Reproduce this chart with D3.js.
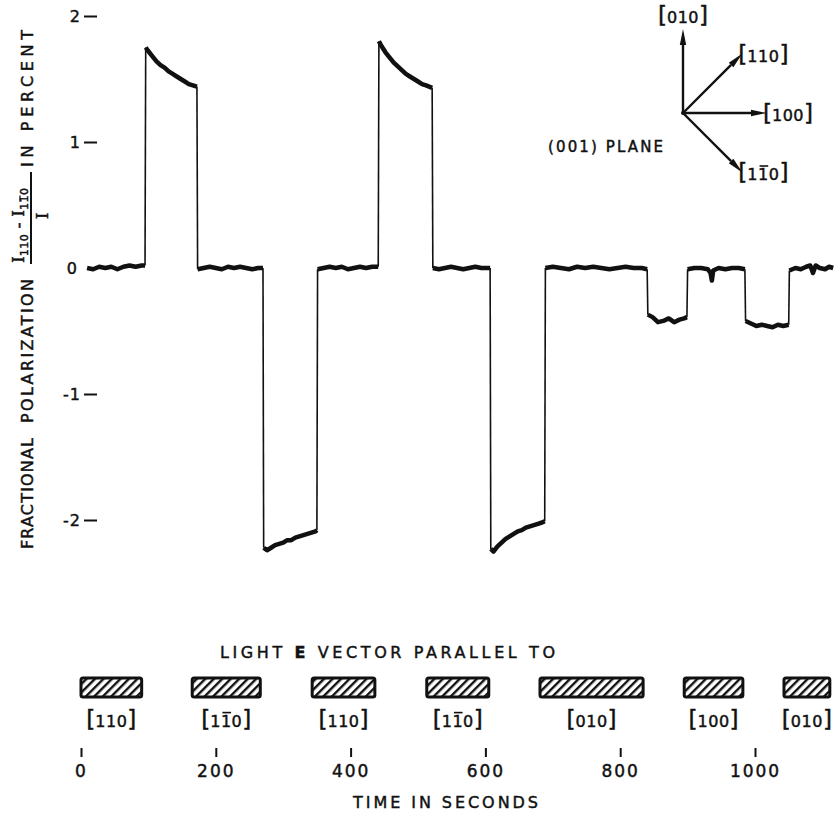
<!DOCTYPE html>
<html>
<head>
<meta charset="utf-8">
<script src="https://cdn.jsdelivr.net/npm/d3@7"></script>
<style>
  body { margin: 0; background: #fff; }
  svg { display: block; font-family: "DejaVu Sans", sans-serif; }
  svg text { fill: #111; stroke: #111; stroke-width: 0.45px; }
</style>
</head>
<body>
<svg id="chart" width="834" height="817"></svg>
<script>
// ---------- data ----------
const yTicks = [-2, -1, 0, 1, 2];
const xTicks = [0, 200, 400, 600, 800, 1000];

// recorded trace: one array per plateau (time in s, polarization in %)
const plateauTimes = [
  [9, 18, 27, 36, 45, 54, 63, 72, 81, 90, 95],
  [96, 100, 106, 112, 118, 124, 130, 136, 142, 148, 154, 160, 166, 172],
  [173, 182, 191, 200, 209, 218, 227, 236, 245, 254, 263, 270],
  [271, 276, 282, 288, 294, 300, 306, 312, 318, 324, 330, 336, 342, 348, 350],
  [351, 360, 369, 378, 387, 396, 405, 414, 423, 432, 441],
  [442, 446, 452, 458, 464, 470, 476, 482, 488, 494, 500, 506, 512, 521],
  [522, 531, 540, 549, 558, 567, 576, 585, 594, 603, 607],
  [608, 612, 618, 624, 630, 636, 642, 648, 654, 660, 666, 672, 678, 684, 688],
  [689, 700, 712, 724, 736, 748, 760, 772, 784, 796, 808, 820, 832, 840],
  [841, 848, 856, 864, 872, 880, 888, 895, 899],
  [900, 910, 920, 930, 934, 936, 938, 946, 956, 966, 976, 985],
  [986, 994, 1002, 1010, 1018, 1026, 1034, 1042, 1050],
  [1051, 1060, 1068, 1076, 1082, 1086, 1090, 1096, 1104, 1110, 1116]
];
const plateauValues = [
  [0.00, -0.01, 0.01, 0.00, 0.01, -0.01, 0.01, 0.02, 0.01, 0.02, 0.02],
  [1.75, 1.72, 1.68, 1.64, 1.61, 1.59, 1.56, 1.54, 1.52, 1.50, 1.48, 1.46, 1.45, 1.44],
  [-0.01, 0.00, 0.01, 0.00, -0.01, 0.01, 0.00, 0.01, 0.00, -0.01, 0.00, 0.00],
  [-2.22, -2.24, -2.22, -2.20, -2.19, -2.18, -2.16, -2.16, -2.14, -2.13, -2.12, -2.11, -2.10, -2.09, -2.08],
  [-0.01, 0.00, 0.01, 0.00, 0.01, -0.01, 0.00, 0.01, 0.00, 0.01, 0.01],
  [1.80, 1.76, 1.71, 1.67, 1.63, 1.60, 1.57, 1.54, 1.52, 1.50, 1.48, 1.46, 1.45, 1.43],
  [0.00, -0.01, 0.00, 0.01, 0.00, -0.01, 0.00, 0.01, 0.00, 0.00, 0.00],
  [-2.23, -2.25, -2.21, -2.18, -2.15, -2.13, -2.11, -2.09, -2.08, -2.06, -2.05, -2.04, -2.03, -2.02, -2.01],
  [0.00, 0.01, 0.00, -0.01, 0.01, 0.00, 0.01, 0.00, -0.01, 0.00, 0.01, 0.00, 0.00, -0.01],
  [-0.37, -0.39, -0.43, -0.42, -0.40, -0.43, -0.41, -0.40, -0.39],
  [-0.01, 0.00, 0.00, -0.01, -0.04, -0.10, -0.02, 0.00, -0.01, 0.00, 0.00, -0.01],
  [-0.42, -0.44, -0.46, -0.45, -0.46, -0.47, -0.45, -0.46, -0.45],
  [-0.02, 0.00, -0.01, 0.01, 0.02, -0.04, 0.02, 0.00, -0.01, 0.01, 0.00]
];

// illumination periods and the direction of the light E vector
// (barDigit: index of the digit carrying an overbar, -1 for none)
const lightStart = [0, 165, 343, 513, 681, 895, 1043];
const lightEnd = [90, 266, 436, 605, 834, 982, 1111];
const lightLabels = ["110", "110", "110", "110", "010", "100", "010"];
const lightBarDigit = [-1, 1, -1, 1, -1, -1, -1];

// crystal directions in the (001) plane (angle in degrees from [100])
const dirLabels = ["010", "110", "100", "110"];
const dirBarDigit = [-1, -1, -1, 1];
const dirAngles = [90, 45, 0, -45];

// ---------- layout ----------
const svg = d3.select("#chart");
const x = d3.scaleLinear().domain([0, 1000]).range([81, 755]);
const y = d3.scaleLinear().domain([-2, 2]).range([520, 16]);

const defs = svg.append("defs");
defs.append("pattern")
  .attr("id", "hatch")
  .attr("patternUnits", "userSpaceOnUse")
  .attr("width", 6).attr("height", 6)
  .attr("patternTransform", "rotate(45)")
  .append("rect")
  .attr("x", 0).attr("y", 0).attr("width", 2.4).attr("height", 6)
  .attr("fill", "#111");

// overbar above one character of a text element
function overbar(sel, textSel, charIndex, lift) {
  const ext = textSel.node().getExtentOfChar(charIndex);
  const base = +textSel.attr("y");
  sel.append("line")
    .attr("x1", ext.x + 1.5).attr("x2", ext.x + ext.width - 0.5)
    .attr("y1", base - lift).attr("y2", base - lift)
    .attr("stroke", "#111").attr("stroke-width", 1.6);
}

// bracketed Miller index label with tall brackets
function bracketLabel(sel, cx, baseY, inner, barDigit, size) {
  const t = sel.append("text")
    .attr("x", cx).attr("y", baseY)
    .attr("text-anchor", "middle");
  t.append("tspan").attr("font-size", size * 1.45).text("[");
  t.append("tspan").attr("font-size", size).attr("letter-spacing", 0.5).text(inner);
  t.append("tspan").attr("font-size", size * 1.45).text("]");
  if (barDigit >= 0) overbar(sel, t, 1 + barDigit, size * 0.9);
  return t;
}

// ---------- y axis ----------
const yAxis = d3.axisLeft(y).tickValues(yTicks).tickSize(13).tickPadding(3)
  .tickFormat(d => d < 0 ? "-" + Math.abs(d) : String(d));
const gy = svg.append("g").attr("transform", "translate(97,0)").call(yAxis);
gy.select(".domain").remove();
gy.selectAll(".tick line").attr("stroke", "#111").attr("stroke-width", 2)
  .attr("display", d => d === 0 ? "none" : null);
gy.selectAll(".tick text")
  .attr("font-size", 16).attr("font-family", "DejaVu Sans, sans-serif")
  .attr("letter-spacing", 1);
gy.selectAll(".tick").filter(d => d === 0).select("text").attr("x", -19);

// y axis title, drawn rotated
const yt = svg.append("g").attr("transform", "rotate(-90)");
yt.append("text").attr("x", -549).attr("y", 33).attr("font-size", 16)
  .attr("textLength", 111).attr("lengthAdjust", "spacing").text("FRACTIONAL");
yt.append("text").attr("x", -423).attr("y", 33).attr("font-size", 16)
  .attr("textLength", 144).attr("lengthAdjust", "spacing").text("POLARIZATION");
yt.append("text").attr("x", -167).attr("y", 33).attr("font-size", 16)
  .attr("textLength", 137).attr("lengthAdjust", "spacing").text("IN PERCENT");
const num = yt.append("text").attr("x", -263).attr("y", 24).attr("font-size", 17);
num.append("tspan").attr("font-family", "DejaVu Serif, serif").text("I");
num.append("tspan").attr("font-size", 11).attr("dy", 4).attr("letter-spacing", 0.5).text("110");
num.append("tspan").attr("dy", -4).text(" - ");
num.append("tspan").attr("font-family", "DejaVu Serif, serif").text("I");
num.append("tspan").attr("font-size", 11).attr("dy", 4).attr("letter-spacing", 0.5).text("110");
// overbar on the second digit of the second subscript ("I" 1 1 0 " - " "I" 1 [1] 0)
{
  const ext = num.node().getExtentOfChar(9);
  yt.append("line").attr("x1", ext.x + 1).attr("x2", ext.x + ext.width - 0.5)
    .attr("y1", 20).attr("y2", 20).attr("stroke", "#111").attr("stroke-width", 1.3);
}
yt.append("line").attr("x1", -264).attr("x2", -172).attr("y1", 31).attr("y2", 31)
  .attr("stroke", "#111").attr("stroke-width", 2);
yt.append("text").attr("x", -216).attr("y", 48).attr("font-size", 17)
  .attr("text-anchor", "middle").attr("font-family", "DejaVu Serif, serif").text("I");

// ---------- trace ----------
const plateaus = plateauTimes.map((ts, i) => ts.map((t, j) => [t, plateauValues[i][j]]));
const line = d3.line().x(d => x(d[0])).y(d => y(d[1]));
const trace = svg.append("g");
// fast transitions between plateaus (thin)
plateaus.slice(1).forEach((p, i) => {
  const a = plateaus[i][plateaus[i].length - 1], b = p[0];
  trace.append("path").attr("d", line([a, b]))
    .attr("fill", "none").attr("stroke", "#111").attr("stroke-width", 1.6);
});
// plateaus (heavy, noisy recorder line)
trace.selectAll("path.plateau").data(plateaus).join("path")
  .attr("class", "plateau")
  .attr("d", line)
  .attr("fill", "none").attr("stroke", "#111")
  .attr("stroke-width", 4.5).attr("stroke-linejoin", "round").attr("stroke-linecap", "butt");

// ---------- illumination bars ----------
svg.append("text").attr("x", 220).attr("y", 658).attr("font-size", 16)
  .attr("textLength", 335).attr("lengthAdjust", "spacing")
  .call(t => {
    t.append("tspan").text("LIGHT ");
    t.append("tspan").attr("font-weight", "bold").text("E");
    t.append("tspan").text(" VECTOR PARALLEL TO");
  });

const bars = svg.append("g");
lightStart.forEach((s, i) => {
  bars.append("rect")
    .attr("x", x(s)).attr("y", 678)
    .attr("width", x(lightEnd[i]) - x(s)).attr("height", 19)
    .attr("rx", 2)
    .attr("fill", "url(#hatch)")
    .attr("stroke", "#111").attr("stroke-width", 3);
  bracketLabel(bars, (x(s) + x(lightEnd[i])) / 2, 727, lightLabels[i], lightBarDigit[i], 16);
});

// ---------- x axis ----------
const xAxis = d3.axisBottom(x).tickValues(xTicks).tickSize(9).tickPadding(8).tickFormat(d3.format("d"));
const gx = svg.append("g").attr("transform", "translate(0,748)").call(xAxis);
gx.select(".domain").remove();
gx.selectAll(".tick line").attr("stroke", "#111").attr("stroke-width", 2);
gx.selectAll(".tick text").attr("font-size", 17)
  .attr("font-family", "DejaVu Sans, sans-serif").attr("letter-spacing", 2);
svg.append("text").attr("x", 353).attr("y", 808).attr("font-size", 16)
  .attr("textLength", 185).attr("lengthAdjust", "spacing").text("TIME IN SECONDS");

// ---------- crystal direction inset ----------
const inset = svg.append("g").attr("transform", "translate(683,113)");
const arrowLen = 84;
dirAngles.forEach((a, i) => {
  const r = a * Math.PI / 180;
  const tx = arrowLen * Math.cos(r), ty = -arrowLen * Math.sin(r);
  const ux = Math.cos(r), uy = -Math.sin(r);
  const hx = tx - 16 * ux, hy = ty - 16 * uy;
  inset.append("line").attr("x1", 0).attr("y1", 0).attr("x2", hx).attr("y2", hy)
    .attr("stroke", "#111").attr("stroke-width", 2.4);
  inset.append("path")
    .attr("d", `M${tx},${ty} L${hx - 3.2 * uy},${hy + 3.2 * ux} L${hx + 3.2 * uy},${hy - 3.2 * ux} Z`)
    .attr("fill", "#111");
  let lx, ly;
  if (a === 90) { lx = tx; ly = ty - 6; }
  else { lx = tx + 21; ly = ty + 8; }
  bracketLabel(inset, lx, ly, dirLabels[i], dirBarDigit[i], 16);
});
inset.append("circle").attr("r", 2).attr("fill", "#111");
svg.append("text").attr("x", 548).attr("y", 152).attr("font-size", 15)
  .attr("textLength", 115).attr("lengthAdjust", "spacing").text("(001) PLANE");
</script>
</body>
</html>
